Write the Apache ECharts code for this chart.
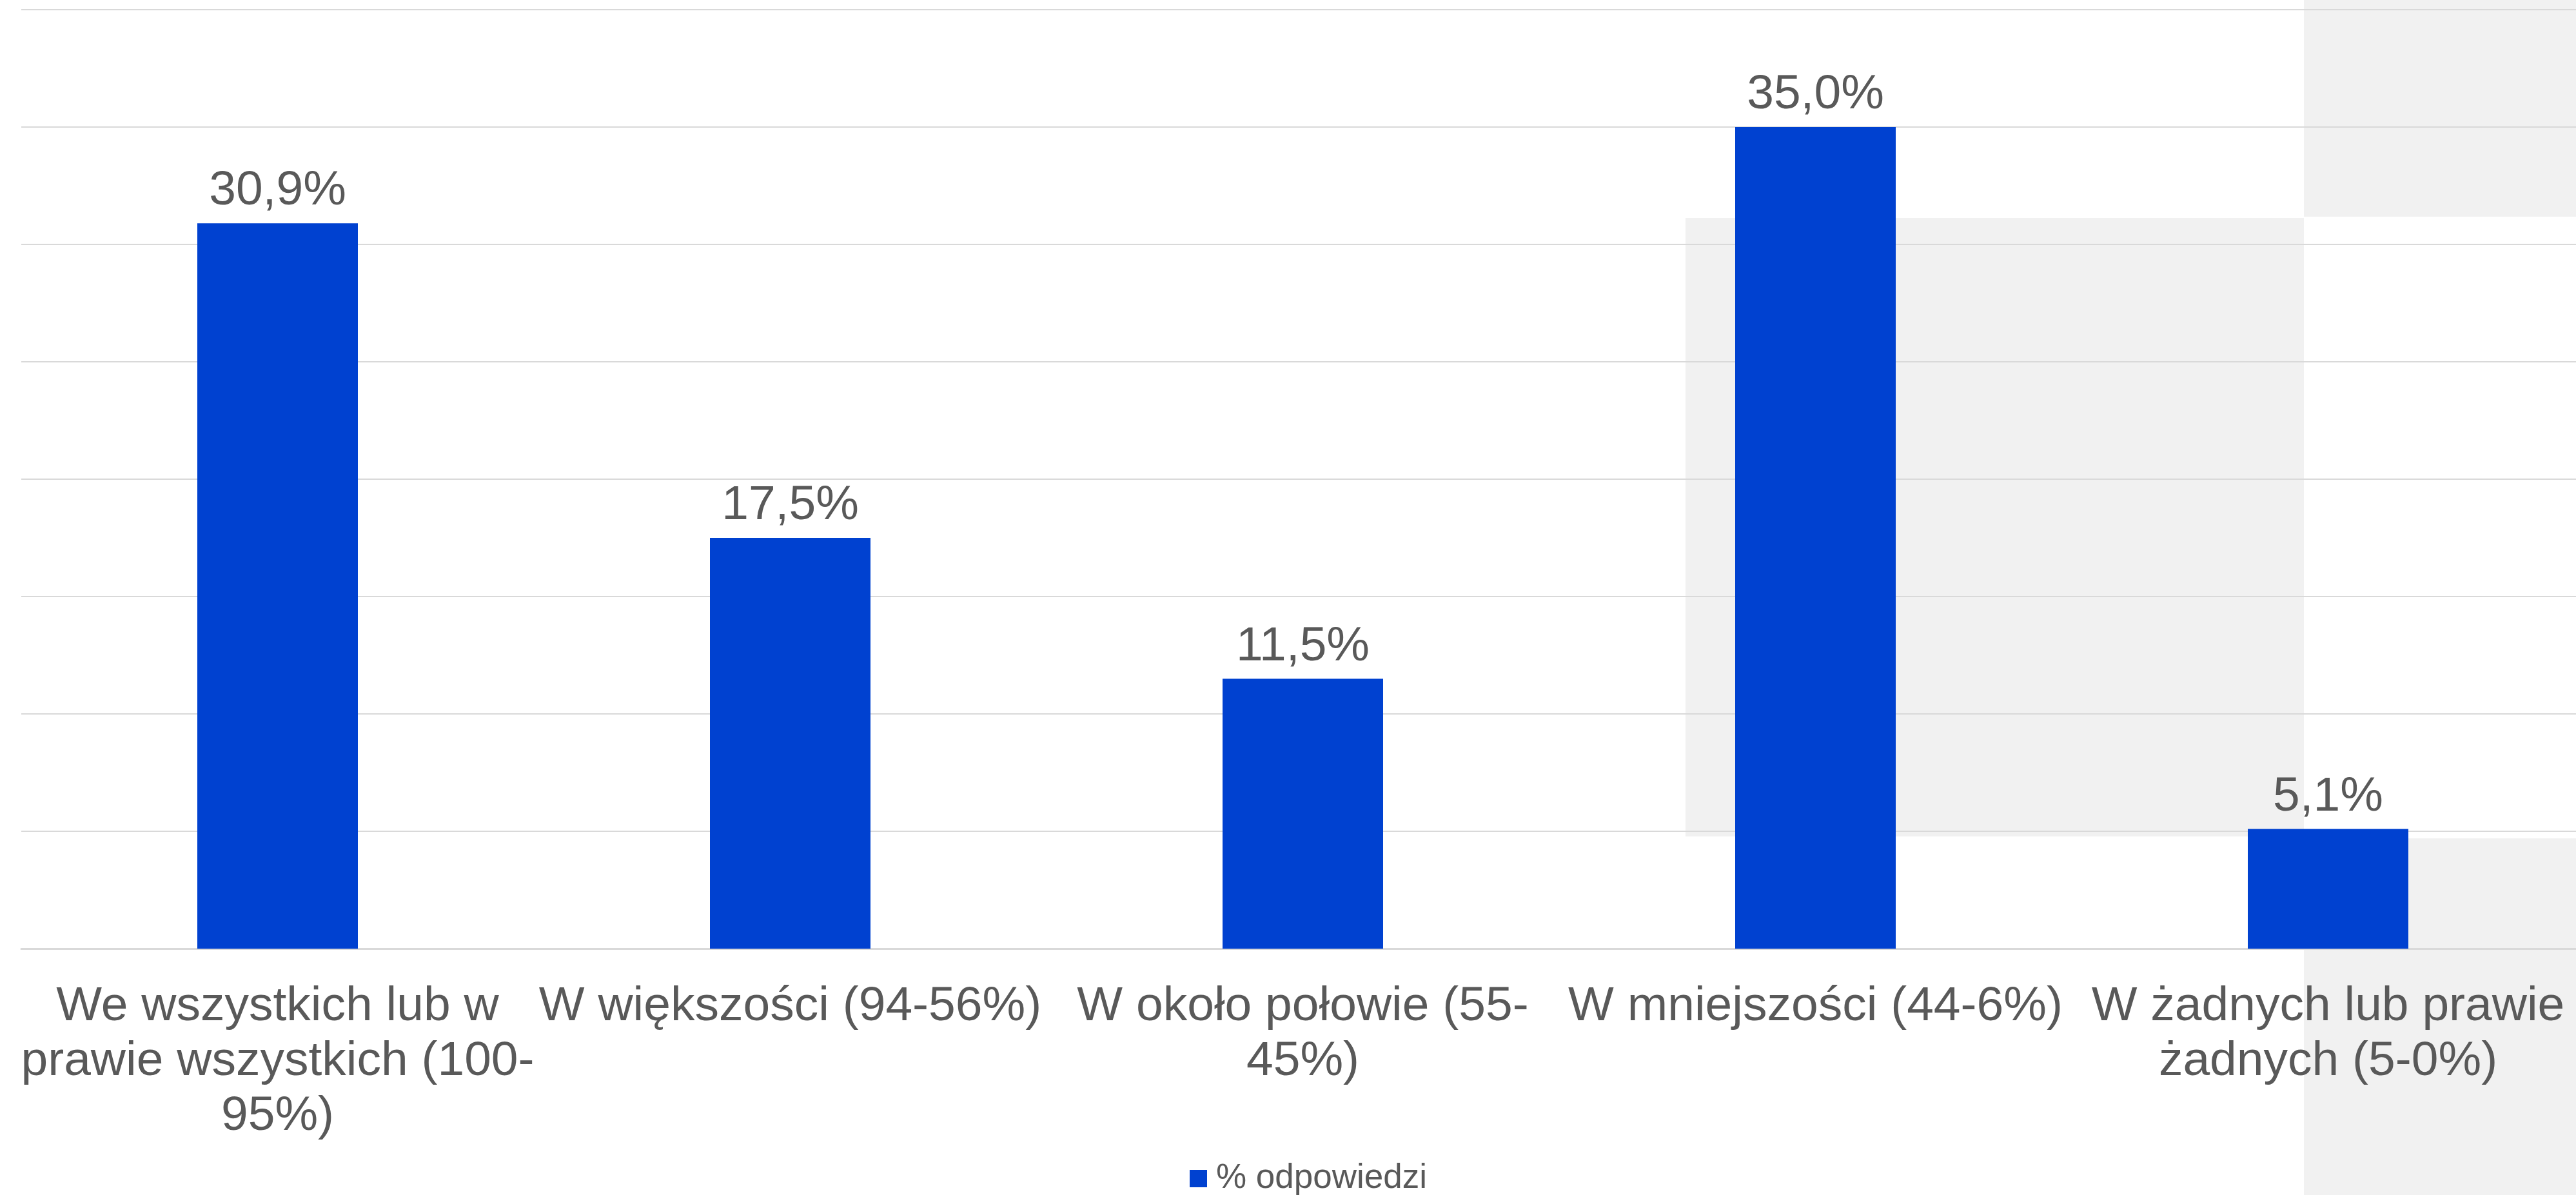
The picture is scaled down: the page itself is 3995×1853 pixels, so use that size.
<!DOCTYPE html>
<html>
<head>
<meta charset="utf-8">
<script src="https://cdn.jsdelivr.net/npm/echarts@6/dist/echarts.min.js"></script>
<style>
  html, body { margin: 0; padding: 0; background: #ffffff; overflow: hidden; width: 3995px; height: 1853px; }
  #chart { width: 4010px; height: 1853px; }
</style>
</head>
<body>
<div id="chart"></div>
<script>
const categories = [
  'We wszystkich lub w\nprawie wszystkich (100-\n95%)',
  'W większości (94-56%)',
  'W około połowie (55-\n45%)',
  'W mniejszości (44-6%)',
  'W żadnych lub prawie\nżadnych (5-0%)'
];
const seriesName = '% odpowiedzi';
const values = [30.9, 17.5, 11.5, 35.0, 5.1];
const yMin = 0;
const yMax = 40;
const yInterval = 5;

const chart = echarts.init(document.getElementById('chart'), null, { renderer: 'canvas' });
const FONT = '"Liberation Sans", Arial, sans-serif';

chart.setOption({
  backgroundColor: '#ffffff',
  animation: false,
  graphic: [
    { type: 'rect', z: -10, silent: true, shape: { x: 2614, y: 338, width: 959, height: 959 }, style: { fill: '#F1F1F1' } },
    { type: 'rect', z: -10, silent: true, shape: { x: 3573, y: 0, width: 437, height: 336 }, style: { fill: '#F1F1F1' } },
    { type: 'rect', z: -10, silent: true, shape: { x: 3573, y: 1300, width: 437, height: 553 }, style: { fill: '#F1F1F1' } }
  ],
  grid: { left: 33, right: 2, top: 15, bottom: 382, containLabel: false },
  legend: {
    data: [seriesName],
    left: 1845,
    top: 1800,
    padding: 0,
    itemWidth: 27,
    itemHeight: 27,
    icon: 'rect',
    textStyle: { fontFamily: FONT, fontSize: 53, color: '#595959', padding: [0, 0, 0, 9], lineHeight: 55 }
  },
  xAxis: {
    type: 'category',
    data: categories,
    axisLine: { show: true, lineStyle: { color: '#D9D9D9', width: 3 } },
    axisTick: { show: false },
    axisLabel: {
      interval: 0,
      fontFamily: FONT,
      fontSize: 75,
      lineHeight: 85,
      color: '#595959',
      margin: 48
    }
  },
  yAxis: {
    type: 'value',
    min: yMin,
    max: yMax,
    interval: yInterval,
    axisLabel: { show: false },
    axisLine: { show: false },
    axisTick: { show: false },
    splitLine: { show: true, lineStyle: { color: '#D9D9D9', width: 2 } }
  },
  series: [{
    name: seriesName,
    type: 'bar',
    data: values,
    barWidth: 249,
    itemStyle: { color: '#0041D0' },
    label: {
      show: true,
      position: 'top',
      distance: 12,
      fontFamily: FONT,
      fontSize: 75,
      color: '#595959',
      formatter: p => p.value.toFixed(1).replace('.', ',') + '%'
    }
  }]
});
</script>
</body>
</html>
